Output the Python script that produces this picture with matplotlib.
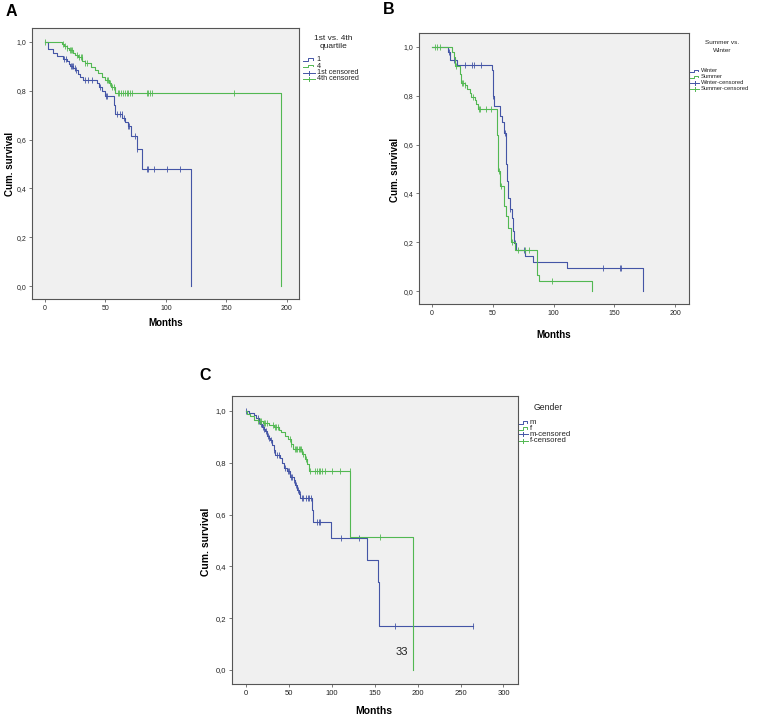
import matplotlib
matplotlib.use('Agg')
import matplotlib.pyplot as plt
from matplotlib.lines import Line2D
import numpy as np

plt.rcParams['font.family'] = ['Liberation Sans', 'DejaVu Sans']

W, H = 766, 717
BLUE = '#4455a6'
GREEN = '#52b852'

# ---------------- Panel A: 1st vs 4th quartile ----------------
a_q1_times = [2.2, 6.9, 10, 15, 18, 19.5, 21, 23, 25, 27, 29, 31.5, 43, 44.5, 47, 50,
              57, 58, 63.5, 66, 68.5, 71, 76, 80.5, 121]
a_q1_surv = [0.97, 0.955, 0.943, 0.932, 0.92, 0.91, 0.90, 0.892, 0.883, 0.87, 0.858, 0.845,
             0.83, 0.815, 0.80, 0.78, 0.74, 0.706, 0.69, 0.67, 0.655, 0.613, 0.561, 0.48, 0.0]
a_q1_cens = [16, 17.1, 21.2, 22, 22.9, 24.8, 25.6, 33.1, 35.9, 38.6, 45.5, 50.5, 51.6, 59.3,
             62.1, 63.4, 65.7, 69, 69.8, 74.5, 76.4, 84.1, 85.5, 90.5, 100.7, 111.7]

a_q4_times = [14, 16, 18, 20, 23, 25, 27, 31, 33, 38, 41, 44, 47, 50, 53, 55, 58, 195]
a_q4_surv = [0.99, 0.982, 0.975, 0.966, 0.955, 0.946, 0.938, 0.922, 0.914, 0.898, 0.886,
             0.872, 0.858, 0.845, 0.832, 0.815, 0.79, 0.0]
a_q4_cens = [0, 15, 16.5, 18.5, 20.5, 21.5, 22.5, 26.5, 28, 29.5, 30.5, 33.5, 35, 51, 52.5,
             54, 55.6, 57, 60, 61.5, 63, 64.5, 66, 67.5, 69, 70.5, 72, 84, 85.5, 87, 88.5, 156]

# ---------------- Panel B: Summer vs Winter ----------------
b_w_times = [13.2, 15.1, 20.5, 49, 50, 51, 55.8, 57.2, 59.1, 61, 61.8, 62.9, 64, 65.5, 66.5,
             67.5, 69.5, 76.3, 83.2, 111.3, 174]
b_w_surv = [0.98, 0.947, 0.926, 0.906, 0.80, 0.757, 0.715, 0.694, 0.647, 0.52, 0.45, 0.38,
            0.335, 0.30, 0.245, 0.196, 0.17, 0.145, 0.117, 0.094, 0.0]
b_w_cens = [13.8, 17.9, 26.9, 33.2, 34.3, 40.7, 50.3, 59.9, 64.6, 68.5, 75.8, 141, 154.4, 155.2]

b_s_times = [16.8, 17.9, 18.7, 22.8, 24.2, 26.9, 28.8, 31, 32.4, 35.2, 36.5, 37.9, 53.6,
             54.4, 55.8, 59.1, 60.7, 62.6, 65.4, 68.1, 86, 88, 132]
b_s_surv = [0.981, 0.96, 0.92, 0.89, 0.854, 0.845, 0.827, 0.81, 0.793, 0.783, 0.765, 0.745,
            0.64, 0.49, 0.432, 0.347, 0.306, 0.258, 0.2, 0.167, 0.064, 0.041, 0.0]
b_s_cens = [2.2, 4.1, 6.3, 20, 25, 25.8, 27.5, 33.5, 38.7, 39.8, 44.2, 48.9, 54.9, 56.5,
            65.8, 70.9, 76.4, 80, 98.9]

# ---------------- Panel C: Gender ----------------
c_m_times = [4, 8.9, 12, 14.7, 16.5, 18.6, 20.5, 22.5, 24.4, 26.5, 28.3, 30.3, 32.2, 34.1,
             40, 41.9, 43.9, 47.8, 51.6, 55.5, 57.5, 59.4, 61.5, 63.3, 76.8, 78.5, 99,
             140.9, 153.3, 154.5]
c_m_surv = [0.993, 0.986, 0.973, 0.96, 0.95, 0.94, 0.93, 0.921, 0.902, 0.895, 0.889, 0.87,
            0.85, 0.831, 0.818, 0.799, 0.78, 0.767, 0.747, 0.735, 0.715, 0.696, 0.68, 0.664,
            0.616, 0.571, 0.508, 0.424, 0.341, 0.17]
c_m_end = 264.3
c_m_cens = [0, 14, 15.5, 17, 19.5, 21, 23, 25.5, 27, 29, 33, 36, 38, 46, 48.5, 50, 52, 54,
            56, 58.5, 60.5, 62.5, 65, 67, 70, 72, 74, 76, 82.7, 84.6, 86.5, 110.6, 132,
            173.9, 264.3]

c_f_times = [1.5, 5, 9, 14, 20, 27, 33, 38, 41, 45, 49, 52, 55, 65, 69, 71.5, 73.5, 121, 195]
c_f_surv = [0.99, 0.98, 0.966, 0.96, 0.955, 0.947, 0.937, 0.925, 0.918, 0.905, 0.893, 0.873,
            0.855, 0.835, 0.815, 0.795, 0.77, 0.513, 0.0]
c_f_cens = [14.5, 16, 18, 20.5, 22.5, 24.8, 31.5, 33.5, 35, 37, 51, 53, 57, 58.5, 60, 61.5,
            63, 64.5, 67, 70, 74.5, 80.8, 82.7, 84.6, 86.6, 88.5, 92.4, 100.2, 109.9, 120.7,
            155.6]

y_ticks = [0.0, 0.2, 0.4, 0.6, 0.8, 1.0]
y_labels = ['0,0', '0,2', '0,4', '0,6', '0,8', '1,0']


def surv_at(t, times, surv):
    s = 1.0
    for ti, si in zip(times, surv):
        if ti <= t:
            s = si
        else:
            break
    return s


def fx(px):
    return px / W


def fy(py):
    return 1 - py / H


fig = plt.figure(figsize=(W / 100, H / 100), dpi=100)
fig.patch.set_facecolor('white')


def make_axes(l, t, r, b, xlim, ylim, xticks, tsize):
    ax = fig.add_axes([fx(l), fy(b), (r - l) / W, (b - t) / H])
    ax.set_facecolor('#f0f0f0')
    ax.set_xlim(*xlim)
    ax.set_ylim(*ylim)
    ax.set_xticks(xticks)
    ax.set_xticklabels([str(v) for v in xticks])
    ax.set_yticks(y_ticks)
    ax.set_yticklabels(y_labels)
    ax.tick_params(direction='out', length=2.5, width=0.5, labelsize=tsize, pad=1.5,
                   colors='#444444', labelcolor='#222222')
    for sp in ax.spines.values():
        sp.set_color('#555555')
        sp.set_linewidth(0.8)
    return ax


def km(ax, times, surv, cens, color, end=None):
    xs = [0] + list(times)
    ys = [1.0] + list(surv)
    if end is not None:
        xs.append(end)
        ys.append(ys[-1])
    ax.step(xs, ys, where='post', color=color, lw=0.8)
    cy = [surv_at(c, times, surv) for c in cens]
    ax.plot(cens, cy, linestyle='none', marker='|', markersize=3.8, markeredgewidth=0.6,
            color=color)


def legend(title_lines, title_x, title_ys, title_size, entries, ys, x0, sym_w, size):
    for line, ty in zip(title_lines, title_ys):
        fig.text(fx(title_x), fy(ty), line, ha='center', va='center', fontsize=title_size,
                 color='#222222')
    for (label, color, kind), y in zip(entries, ys):
        if kind == 'line':
            xs = [x0, x0 + sym_w * 0.5, x0 + sym_w * 0.5, x0 + sym_w * 0.95, x0 + sym_w * 0.95]
            yy = [y + 1.4, y + 1.4, y - 1.4, y - 1.4, y + 0.2]
            fig.add_artist(Line2D([fx(v) for v in xs], [fy(v) for v in yy],
                                  transform=fig.transFigure, color=color, lw=0.7))
        else:
            fig.add_artist(Line2D([fx(x0), fx(x0 + sym_w * 1.15)], [fy(y), fy(y)],
                                  transform=fig.transFigure, color=color, lw=0.7))
            xm = x0 + sym_w * 0.57
            fig.add_artist(Line2D([fx(xm), fx(xm)], [fy(y - 2.0), fy(y + 2.0)],
                                  transform=fig.transFigure, color=color, lw=0.7))
        fig.text(fx(x0 + sym_w * 1.2 + 1), fy(y), label, ha='left', va='center',
                 fontsize=size, color='#222222')


# ---- Panel A ----
axA = make_axes(32, 28, 299, 299, (-10.7, 210), (-0.053, 1.057), [0, 50, 100, 150, 200], 5)
km(axA, a_q1_times, a_q1_surv, a_q1_cens, BLUE)
km(axA, a_q4_times, a_q4_surv, a_q4_cens, GREEN)
fig.text(fx(11), fy(11), 'A', fontsize=11.5, fontweight='bold', ha='center', va='center')
fig.text(fx(166), fy(323), 'Months', fontsize=7, fontweight='bold', ha='center', va='center')
fig.text(fx(10), fy(164), 'Cum. survival', fontsize=7, fontweight='bold', ha='center',
         va='center', rotation=90)
legend(['1st vs. 4th', 'quartile'], 333, [38.5, 46], 6,
       [('1', BLUE, 'line'), ('4', GREEN, 'line'), ('1st censored', BLUE, 'cens'),
        ('4th censored', GREEN, 'cens')],
       [59.5, 66, 72.5, 79], 303, 10.5, 5.2)

# ---- Panel B ----
axB = make_axes(419, 33, 689, 304, (-10.7, 211.5), (-0.053, 1.057), [0, 50, 100, 150, 200], 5)
km(axB, b_w_times, b_w_surv, b_w_cens, BLUE)
km(axB, b_s_times, b_s_surv, b_s_cens, GREEN)
fig.text(fx(389), fy(10), 'B', fontsize=11.5, fontweight='bold', ha='center', va='center')
fig.text(fx(554), fy(335), 'Months', fontsize=7, fontweight='bold', ha='center', va='center')
fig.text(fx(395), fy(170), 'Cum. survival', fontsize=7, fontweight='bold', ha='center',
         va='center', rotation=90)
legend(['Summer vs.', 'Winter'], 722, [43, 50.5], 4.6,
       [('Winter', BLUE, 'line'), ('Summer', GREEN, 'line'),
        ('Winter-censored', BLUE, 'cens'), ('Summer-censored', GREEN, 'cens')],
       [71, 77, 83, 89], 690, 8, 4.2)

# ---- Panel C ----
axC = make_axes(232, 396, 518, 684, (-16.3, 317), (-0.054, 1.058),
                [0, 50, 100, 150, 200, 250, 300], 5.5)
km(axC, c_m_times, c_m_surv, c_m_cens, BLUE, end=c_m_end)
km(axC, c_f_times, c_f_surv, c_f_cens, GREEN)
axC.text(182, 0.068, '33', fontsize=8, ha='center', va='center', color='#222222')
fig.text(fx(205), fy(375), 'C', fontsize=11.5, fontweight='bold', ha='center', va='center')
fig.text(fx(374), fy(711), 'Months', fontsize=7.5, fontweight='bold', ha='center',
         va='center')
fig.text(fx(206), fy(542), 'Cum. survival', fontsize=7.5, fontweight='bold', ha='center',
         va='center', rotation=90)
legend(['Gender'], 548, [407], 6.2,
       [('m', BLUE, 'line'), ('f', GREEN, 'line'), ('m-censored', BLUE, 'cens'),
        ('f-censored', GREEN, 'cens')],
       [422.3, 428.3, 434.3, 440.7], 518.5, 8.5, 5.6)

fig.savefig('out.png', dpi=100)
